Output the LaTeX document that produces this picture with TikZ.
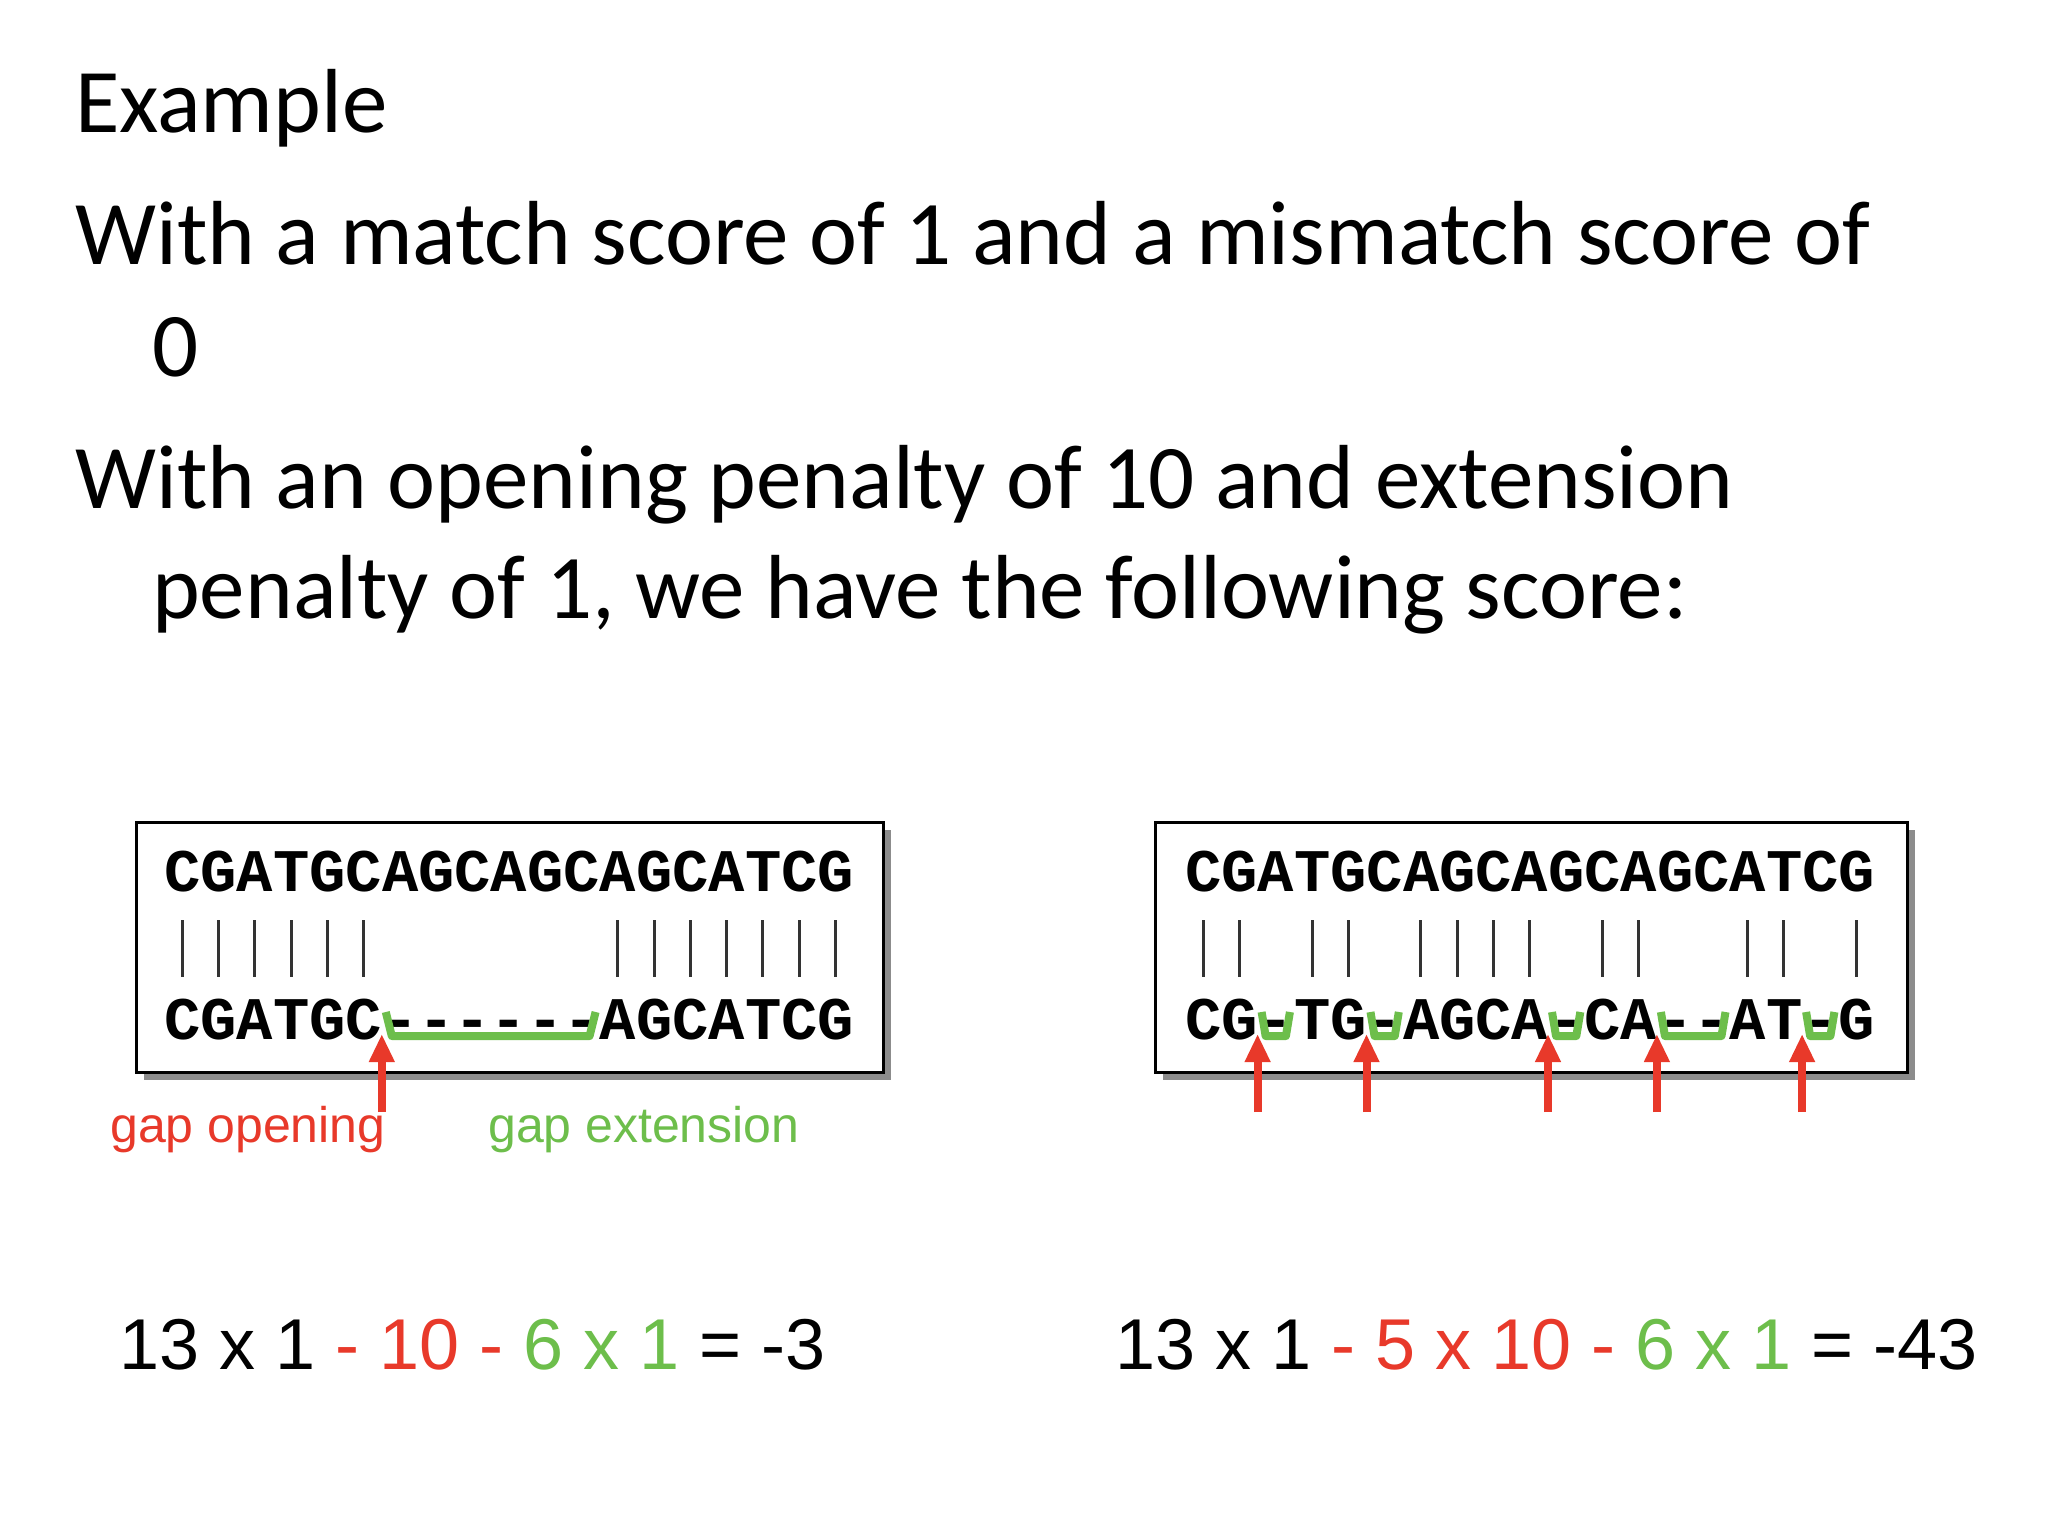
\documentclass[tikz,border=0pt]{standalone}
\usepackage{fontspec}
\usetikzlibrary{arrows.meta}
\setmainfont{Carlito}
\newfontfamily\seqfont{Liberation Mono}
\newfontfamily\arialf{Liberation Sans}
\definecolor{gred}{HTML}{E8392A}
\definecolor{ggreen}{HTML}{6DBE4B}
\begin{document}
\begin{tikzpicture}[x=1pt,y=-1pt,
  body/.style={anchor=base west,inner sep=0,font=\fontsize{91}{110}\selectfont},
  seq/.style={anchor=base west,inner sep=0,font=\seqfont\bfseries\fontsize{60.5}{60}\selectfont},
  lab/.style={anchor=base west,inner sep=0,font=\arialf\fontsize{50}{50}\selectfont},
  frm/.style={anchor=base west,inner sep=0,font=\arialf\fontsize{72}{72}\selectfont},
  bar/.style={line width=3pt,black!80},
  brk/.style={ggreen,line width=8pt,line join=round},
  arr/.style={gred,line width=8pt,-{Triangle[width=24pt,length=28pt]}}]
\useasboundingbox (0,0) rectangle (2048,1536);
\fill[white] (0,0) rectangle (2048,1536);
\node[body] (t1) at (75,132) {Example};
\node[body] (t2) at (75,264) {With a match score of 1 and a mismatch score of};
\node[body] (t3) at (152,376) {0};
\node[body] (t4) at (75,508) {With an opening penalty of 10 and extension};
\node[body] (t5) at (152,618) {penalty of 1, we have the following score:};
% box 1
\fill[black!45] (144,830) rectangle (891,1080);
\draw[line width=3pt,fill=white] (136,822) rectangle (883,1072);
\node[seq] (a1) at (164,891) {CGATGCAGCAGCAGCATCG};
\node[seq] (b1) at (164,1039) {CGATGC------AGCATCG};
\foreach \i in {0,...,5,12,13,...,18}
  \draw[bar] ({164+(\i+0.5)*36.3},920) -- ({164+(\i+0.5)*36.3},977);
\draw[brk] ({164+6*36.3+4},1012) -- ({164+6*36.3+10},1036) -- ({164+12*36.3-10},1036) -- ({164+12*36.3-4},1012);
\coordinate (o1) at ({164+6*36.3},1112);
\draw[arr] (o1) -- ++(0,-78);
\node[lab,gred] (g1) at (110,1142) {gap opening};
\node[lab,ggreen] (g2) at (488,1142) {gap extension};
% box 2
\fill[black!45] (1163,830) rectangle (1915,1080);
\draw[line width=3pt,fill=white] (1155,822) rectangle (1907,1072);
\node[seq] (a2) at (1185,891) {CGATGCAGCAGCAGCATCG};
\node[seq] (b2) at (1185,1039) {CG-TG-AGCA-CA--AT-G};
\foreach \i in {0,1,3,4,6,7,8,9,11,12,15,16,18}
  \draw[bar] ({1185+(\i+0.5)*36.3},920) -- ({1185+(\i+0.5)*36.3},977);
\foreach \a/\b in {2/3,5/6,10/11,13/15,17/18}{
  \draw[brk] ({1185+\a*36.3+4},1012) -- ({1185+\a*36.3+8},1036) -- ({1185+\b*36.3-8},1036) -- ({1185+\b*36.3-4},1012);
  \draw[arr] ({1185+\a*36.3},1112) -- ++(0,-78);
}
% formulas
\node[frm] (f1) at (119,1369) {13 x 1 \textcolor{gred}{- 10 -} \textcolor{ggreen}{6 x 1} = -3};
\node[frm] (f2) at (1115,1369) {13 x 1 \textcolor{gred}{- 5 x 10 -} \textcolor{ggreen}{6 x 1} = -43};
\end{tikzpicture}
\end{document}
